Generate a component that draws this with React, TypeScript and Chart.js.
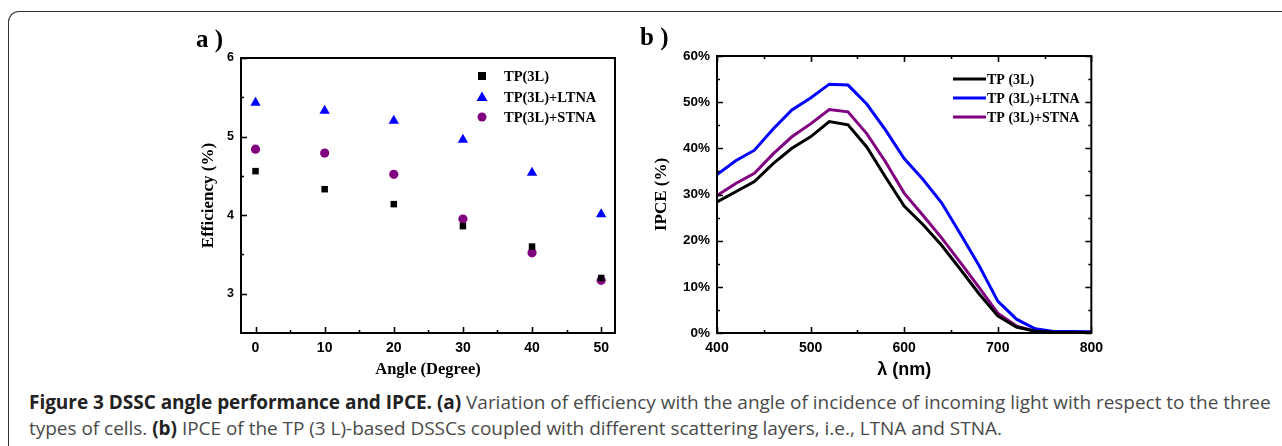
import React, { useEffect, useRef } from "react";
import { Chart, registerables } from "chart.js";

Chart.register(...registerables);

// ---------- Panel a data ----------
const angles = [0, 10, 20, 30, 40, 50];
const effTP = [4.56, 4.33, 4.14, 3.86, 3.6, 3.2];
const effLTNA = [5.43, 5.33, 5.2, 4.96, 4.54, 4.01];
const effSTNA = [4.84, 4.79, 4.52, 3.95, 3.52, 3.17];
const angleTicks = [0, 10, 20, 30, 40, 50];
const angleMinorTicks = [5, 15, 25, 35, 45];
const effTicks = [3, 4, 5, 6];
const effMinorTicks = [3.5, 4.5, 5.5];

// ---------- Panel b data ----------
const wavelengths = [400, 420, 440, 460, 480, 500, 520, 540, 560, 580, 600, 620, 640, 660, 680, 700, 720, 740, 760, 780, 800];
const ipceTP = [28.4, 30.6, 32.8, 36.7, 40.0, 42.5, 45.8, 45.1, 40.3, 33.8, 27.5, 23.5, 19.0, 13.8, 8.5, 3.7, 1.3, 0.4, 0.15, 0.1, 0.1];
const ipceLTNA = [34.3, 37.3, 39.6, 44.2, 48.3, 50.9, 53.9, 53.7, 49.6, 44.0, 37.8, 33.3, 28.2, 21.5, 14.6, 6.9, 3.0, 0.9, 0.35, 0.3, 0.25];
const ipceSTNA = [29.8, 32.4, 34.6, 38.8, 42.5, 45.3, 48.4, 47.9, 43.2, 37.1, 30.3, 25.5, 20.6, 15.3, 9.9, 4.3, 1.5, 0.4, 0.1, 0.1, 0.1];
const lambdaTicks = [400, 500, 600, 700, 800];
const lambdaMinorTicks = [450, 550, 650, 750];
const ipceTicks = [0, 10, 20, 30, 40, 50, 60];
const ipceMinorTicks = [5, 15, 25, 35, 45, 55];

const serifBold = (size: number) => ({ family: "'Liberation Serif', 'Times New Roman', serif", size, weight: "bold" as const });
const sansBold = (size: number) => ({ family: "'Liberation Sans', Arial, sans-serif", size, weight: "bold" as const });

// Inward ticks + frame plugin
const frameTicksPlugin = {
  id: "frameTicks",
  afterDraw(chart: any, _args: any, opts: any) {
    const { ctx, chartArea: ca } = chart;
    const xs = chart.scales.x;
    const ys = chart.scales.y;
    ctx.save();
    ctx.strokeStyle = "#000";
    ctx.lineWidth = 2;
    ctx.strokeRect(ca.left, ca.top, ca.right - ca.left, ca.bottom - ca.top);
    ctx.lineWidth = 1.6;
    const drawX = (vals: number[], len: number) => {
      vals.forEach((v) => {
        const px = Math.round(xs.getPixelForValue(v)) + 0.5;
        ctx.beginPath();
        ctx.moveTo(px, ca.bottom);
        ctx.lineTo(px, ca.bottom - len);
        if (opts.mirror) {
          ctx.moveTo(px, ca.top);
          ctx.lineTo(px, ca.top + len);
        }
        ctx.stroke();
      });
    };
    const drawY = (vals: number[], len: number) => {
      vals.forEach((v) => {
        const py = Math.round(ys.getPixelForValue(v)) + 0.5;
        ctx.beginPath();
        ctx.moveTo(ca.left, py);
        ctx.lineTo(ca.left + len, py);
        if (opts.mirror) {
          ctx.moveTo(ca.right, py);
          ctx.lineTo(ca.right - len, py);
        }
        ctx.stroke();
      });
    };
    drawX(opts.xMajor || [], 6);
    drawX(opts.xMinor || [], 3);
    drawY(opts.yMajor || [], 6);
    drawY(opts.yMinor || [], 3);
    ctx.restore();
  },
};

// Custom legend plugin
const customLegendPlugin = {
  id: "customLegend",
  afterDraw(chart: any, _args: any, opts: any) {
    const { ctx } = chart;
    ctx.save();
    ctx.font = `bold ${opts.fontSize}px 'Liberation Serif', 'Times New Roman', serif`;
    ctx.textBaseline = "middle";
    ctx.fillStyle = "#000";
    chart.data.datasets.forEach((ds: any, i: number) => {
      const y = opts.rows[i];
      if (opts.kind === "line") {
        ctx.strokeStyle = ds.borderColor;
        ctx.lineWidth = ds.borderWidth;
        ctx.beginPath();
        ctx.moveTo(opts.markerX, y);
        ctx.lineTo(opts.markerX2, y);
        ctx.stroke();
      } else {
        ctx.fillStyle = ds.backgroundColor;
        const cx = opts.markerX;
        ctx.beginPath();
        if (ds.pointStyle === "rect") {
          ctx.rect(cx - 4, y - 4, 8, 8);
        } else if (ds.pointStyle === "triangle") {
          ctx.moveTo(cx, y - 5.5);
          ctx.lineTo(cx + 5.5, y + 4);
          ctx.lineTo(cx - 5.5, y + 4);
          ctx.closePath();
        } else {
          ctx.arc(cx, y, 4.5, 0, Math.PI * 2);
        }
        ctx.fill();
      }
      ctx.fillStyle = "#000";
      ctx.fillText(ds.label, opts.textX, y + 1);
    });
    ctx.restore();
  },
};

function PanelA() {
  const ref = useRef<HTMLCanvasElement>(null);
  useEffect(() => {
    const chart = new Chart(ref.current!, {
      type: "scatter",
      data: {
        datasets: [
          { label: "TP(3L)", data: angles.map((a, i) => ({ x: a, y: effTP[i] })), pointStyle: "rect", pointRadius: 4.6, backgroundColor: "#000000", borderColor: "#000000", borderWidth: 0 },
          { label: "TP(3L)+LTNA", data: angles.map((a, i) => ({ x: a, y: effLTNA[i] })), pointStyle: "triangle", pointRadius: 6, backgroundColor: "#0000ff", borderColor: "#0000ff", borderWidth: 0 },
          { label: "TP(3L)+STNA", data: angles.map((a, i) => ({ x: a, y: effSTNA[i] })), pointStyle: "circle", pointRadius: 4.6, backgroundColor: "#800080", borderColor: "#800080", borderWidth: 0 },
        ],
      },
      options: {
        animation: false,
        responsive: false,
        devicePixelRatio: 1,
        layout: { padding: { top: 38, right: 25, left: 0, bottom: 0 } },
        plugins: {
          legend: { display: false },
          tooltip: { enabled: false },
          frameTicks: { xMajor: angleTicks, xMinor: angleMinorTicks, yMajor: effTicks, yMinor: effMinorTicks, mirror: false },
          customLegend: { kind: "marker", markerX: 302, textX: 324, rows: [56, 77, 97], fontSize: 14.5 },
        } as any,
        scales: {
          x: {
            type: "linear",
            min: -2.1,
            max: 52,
            afterFit: (s: any) => { s.height = 52; },
            afterBuildTicks: (s: any) => { s.ticks = angleTicks.map((v) => ({ value: v })); },
            grid: { display: false, drawTicks: false },
            border: { display: true, color: "#000", width: 2 },
            ticks: { font: sansBold(14), color: "#000", padding: 7, maxRotation: 0 },
            title: { display: true, text: "Angle (Degree)", font: serifBold(16.5), color: "#000", padding: { bottom: 5 } },
          },
          y: {
            type: "linear",
            min: 2.5,
            max: 6,
            afterFit: (s: any) => { s.width = 61; },
            afterBuildTicks: (s: any) => { s.ticks = effTicks.map((v) => ({ value: v })); },
            grid: { display: false, drawTicks: false },
            border: { display: true, color: "#000", width: 2 },
            ticks: { font: sansBold(12.5), color: "#000", padding: 7 },
            title: { display: true, text: "Efficiency (%)", font: serifBold(17), color: "#000", padding: { top: 18 } },
          },
        },
      },
      plugins: [frameTicksPlugin, customLegendPlugin],
    });
    return () => chart.destroy();
  }, []);
  return <canvas ref={ref} width={460} height={365} style={{ position: "absolute", left: 180, top: 20, width: 460, height: 365 }} />;
}

function PanelB() {
  const ref = useRef<HTMLCanvasElement>(null);
  useEffect(() => {
    const mk = (label: string, vals: number[], color: string) => ({
      label,
      data: wavelengths.map((w, i) => ({ x: w, y: vals[i] })),
      borderColor: color,
      backgroundColor: color,
      borderWidth: 3,
      pointRadius: 0,
      tension: 0,
      fill: false,
    });
    const chart = new Chart(ref.current!, {
      type: "line",
      data: {
        datasets: [
          mk("TP (3L)", ipceTP, "#000000"),
          mk("TP (3L)+LTNA", ipceLTNA, "#0000ff"),
          mk("TP (3L)+STNA", ipceSTNA, "#800080"),
        ],
      },
      options: {
        animation: false,
        responsive: false,
        devicePixelRatio: 1,
        layout: { padding: { top: 36, right: 16, left: 0, bottom: 0 } },
        plugins: {
          legend: { display: false },
          tooltip: { enabled: false },
          frameTicks: { xMajor: lambdaTicks, xMinor: lambdaMinorTicks, yMajor: ipceTicks, yMinor: ipceMinorTicks, mirror: true },
          customLegend: { kind: "line", markerX: 323, markerX2: 356, textX: 357, rows: [59, 78, 97], fontSize: 14 },
        } as any,
        scales: {
          x: {
            type: "linear",
            min: 400,
            max: 800,
            afterFit: (s: any) => { s.height = 52; },
            afterBuildTicks: (s: any) => { s.ticks = lambdaTicks.map((v) => ({ value: v })); },
            grid: { display: false, drawTicks: false },
            border: { display: true, color: "#000", width: 2 },
            ticks: { font: sansBold(14), color: "#000", padding: 7, maxRotation: 0 },
            title: { display: true, text: "λ (nm)", font: sansBold(18), color: "#000", padding: { bottom: 4 } },
          },
          y: {
            type: "linear",
            min: 0,
            max: 60,
            afterFit: (s: any) => { s.width = 87; },
            afterBuildTicks: (s: any) => { s.ticks = ipceTicks.map((v) => ({ value: v })); },
            grid: { display: false, drawTicks: false },
            border: { display: true, color: "#000", width: 2 },
            ticks: { font: sansBold(13.5), color: "#000", padding: 7, callback: (v: any) => `${v}%` },
            title: { display: true, text: "IPCE (%)", font: serifBold(17), color: "#000", padding: { top: 21 } },
          },
        },
      },
      plugins: [frameTicksPlugin, customLegendPlugin],
    });
    return () => chart.destroy();
  }, []);
  return <canvas ref={ref} width={480} height={365} style={{ position: "absolute", left: 630, top: 20, width: 480, height: 365 }} />;
}

export default function App() {
  const capFont = "'Open Sans', 'Noto Sans', sans-serif";
  const bold = { fontWeight: 700, color: "#222" } as const;
  return (
    <div style={{ position: "fixed", left: 0, top: 0, width: 1282, height: 446, background: "#fff", overflow: "hidden" }}>
      <div style={{ position: "absolute", left: 8, top: 11, width: 1400, height: 600, borderTop: "1.5px solid #333", borderLeft: "1.5px solid #333", borderTopLeftRadius: 11 }} />
      <PanelA />
      <PanelB />
      <div style={{ position: "absolute", left: 196, top: 24, font: "bold 25px 'Liberation Serif', serif", lineHeight: "30px", color: "#000" }}>a )</div>
      <div style={{ position: "absolute", left: 640, top: 22, font: "bold 25px 'Liberation Serif', serif", lineHeight: "30px", color: "#000" }}>b )</div>
      <div style={{ position: "absolute", left: 29, top: 389, fontFamily: capFont, fontSize: 19, lineHeight: "26px", color: "#4a4a4a", whiteSpace: "nowrap", letterSpacing: "-0.03px" }}>
        <span style={bold}>Figure 3 DSSC angle performance and IPCE.</span>{" "}
        <span style={bold}>(a)</span> Variation of efficiency with the angle of incidence of incoming light with respect to the three
        <br />
        types of cells. <span style={bold}>(b)</span> IPCE of the TP (3 L)-based DSSCs coupled with different scattering layers, i.e., LTNA and STNA.
      </div>
    </div>
  );
}
